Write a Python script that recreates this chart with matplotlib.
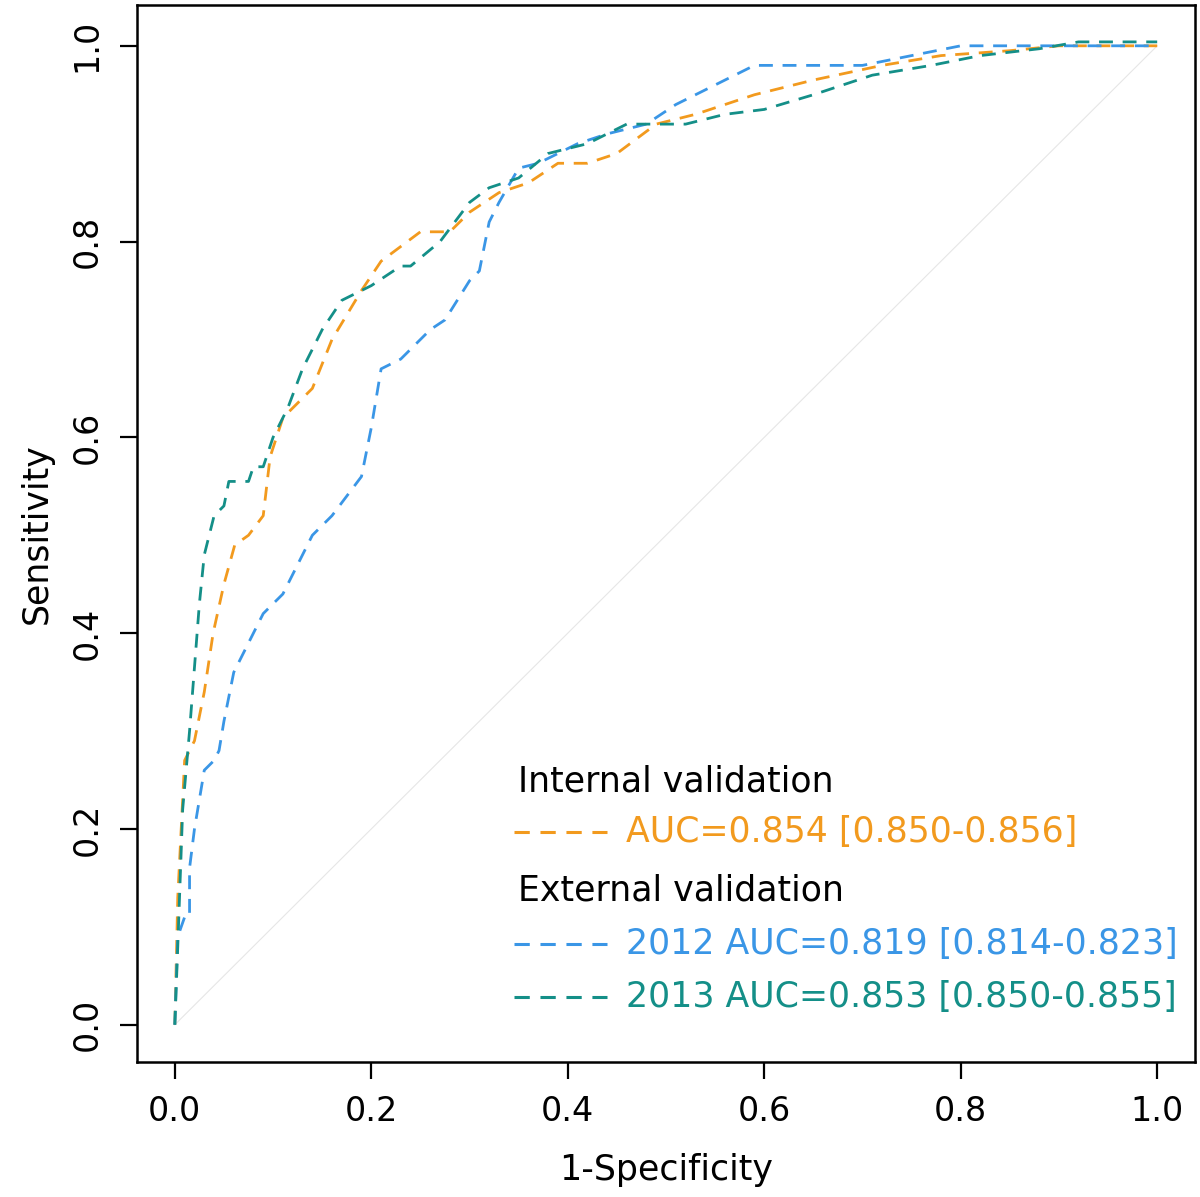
import matplotlib
matplotlib.use("Agg")
import matplotlib.pyplot as plt

# ROC curves (1-specificity, sensitivity)
fpr_internal = [0.0, 0.003, 0.005, 0.01, 0.02, 0.03, 0.039, 0.05, 0.061, 0.075, 0.09,
                0.097, 0.11, 0.14, 0.16, 0.19, 0.21, 0.25, 0.28, 0.30, 0.33, 0.36,
                0.39, 0.42, 0.45, 0.49, 0.53, 0.59, 0.65, 0.72, 0.78, 0.85, 0.90, 1.0]
tpr_internal = [0.0, 0.13, 0.17, 0.27, 0.29, 0.34, 0.40, 0.45, 0.49, 0.50, 0.52,
                0.58, 0.62, 0.65, 0.70, 0.75, 0.78, 0.81, 0.81, 0.83, 0.85, 0.86,
                0.88, 0.88, 0.89, 0.92, 0.93, 0.95, 0.965, 0.98, 0.99, 0.995, 1.0, 1.0]

fpr_2012 = [0.0, 0.003, 0.01, 0.015, 0.015, 0.02, 0.03, 0.04, 0.045, 0.05, 0.06,
            0.07, 0.09, 0.11, 0.125, 0.14, 0.16, 0.19, 0.20, 0.21, 0.23, 0.26,
            0.275, 0.30, 0.31, 0.32, 0.33, 0.35, 0.37, 0.39, 0.41, 0.44, 0.48,
            0.51, 0.55, 0.59, 0.70, 0.75, 0.80, 1.0]
tpr_2012 = [0.0, 0.09, 0.11, 0.11, 0.16, 0.20, 0.26, 0.27, 0.28, 0.31, 0.36,
            0.38, 0.42, 0.44, 0.47, 0.50, 0.52, 0.56, 0.61, 0.67, 0.68, 0.71,
            0.72, 0.76, 0.77, 0.82, 0.84, 0.875, 0.88, 0.89, 0.90, 0.91, 0.92,
            0.94, 0.96, 0.98, 0.98, 0.99, 1.0, 1.0]

fpr_2013 = [0.0, 0.003, 0.008, 0.015, 0.025, 0.03, 0.04, 0.05, 0.055, 0.075, 0.08,
            0.09, 0.10, 0.115, 0.13, 0.15, 0.17, 0.20, 0.23, 0.24, 0.27, 0.30,
            0.32, 0.35, 0.38, 0.42, 0.46, 0.52, 0.56, 0.60, 0.65, 0.71, 0.77,
            0.82, 0.88, 0.92, 1.0]
tpr_2013 = [0.0, 0.08, 0.22, 0.30, 0.43, 0.48, 0.52, 0.53, 0.555, 0.555, 0.57,
            0.57, 0.60, 0.63, 0.67, 0.71, 0.74, 0.755, 0.775, 0.775, 0.80, 0.84,
            0.855, 0.865, 0.89, 0.90, 0.92, 0.92, 0.93, 0.935, 0.95, 0.97, 0.98,
            0.99, 0.997, 1.004, 1.004]

labels = ["AUC=0.854 [0.850-0.856]",
          "2012 AUC=0.819 [0.814-0.823]",
          "2013 AUC=0.853 [0.850-0.855]"]
ticks = [0.0, 0.2, 0.4, 0.6, 0.8, 1.0]

C_ORANGE = '#F29A1E'
C_BLUE = '#3A96E6'
C_TEAL = '#148F88'
DASH = (5, 3.5)

fig = plt.figure(figsize=(12, 11.97), dpi=100)
ax = fig.add_axes([0.114, 0.113, 0.882, 0.883])

ax.plot([0, 1], [0, 1], color='#e6e6e6', linewidth=0.8, zorder=1)

curves = [(fpr_internal, tpr_internal, C_ORANGE),
          (fpr_2012, tpr_2012, C_BLUE),
          (fpr_2013, tpr_2013, C_TEAL)]
for fx, ty, col in curves:
    ax.plot(fx, ty, color=col, linewidth=2.0, dashes=DASH, zorder=2)

ax.set_xlim(-0.0387, 1.0387)
ax.set_ylim(-0.0378, 1.0419)
ax.set_xticks(ticks)
ax.set_yticks(ticks)
ax.set_xticklabels([f"{t:.1f}" for t in ticks])
ax.set_yticklabels([f"{t:.1f}" for t in ticks], rotation=90, va='center')
ax.tick_params(direction='out', length=12, width=1.6, labelsize=24, pad=12)
for s in ax.spines.values():
    s.set_linewidth(1.8)

ax.set_xlabel("1-Specificity", fontsize=25, labelpad=18)
ax.set_ylabel("Sensitivity", fontsize=25, labelpad=12)

# Legend drawn as text, R style
ax.text(0.349, 0.248, "Internal validation", fontsize=25, color='black', va='center')
ax.text(0.349, 0.137, "External validation", fontsize=25, color='black', va='center')
leg_y = [0.197, 0.082, 0.028]
for (fx, ty, col), lab, yy in zip(curves, labels, leg_y):
    ax.plot([0.345, 0.44], [yy, yy], color=col, linewidth=2.2, dashes=DASH)
    ax.text(0.459, yy, lab, fontsize=25, color=col, va='center')

fig.savefig("out.png", dpi=100, facecolor='white')
